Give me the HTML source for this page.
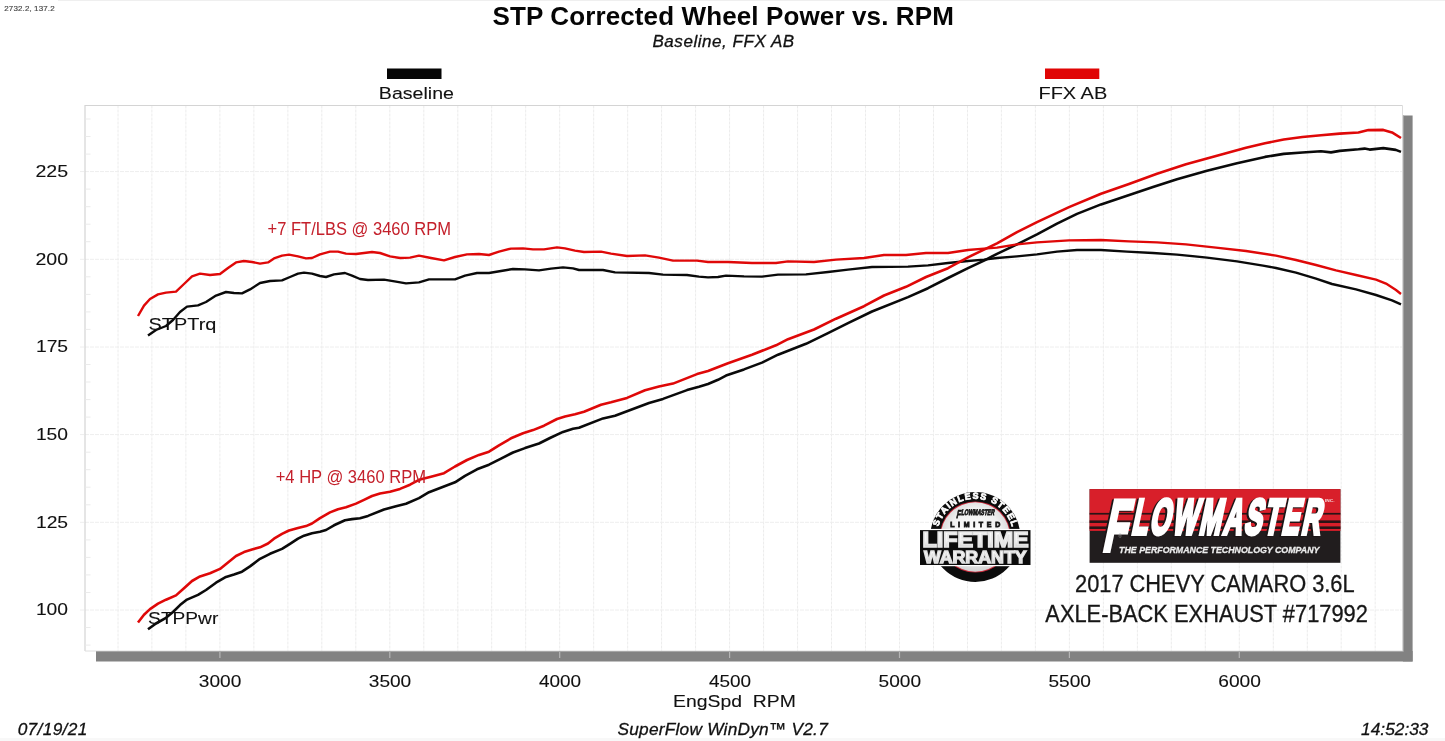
<!DOCTYPE html>
<html lang="en"><head><meta charset="utf-8"><title>STP Corrected Wheel Power vs. RPM</title>
<style>html,body{margin:0;padding:0;background:#fff;overflow:hidden}svg{display:block}text{font-family:"Liberation Sans",Arial,sans-serif;white-space:pre}</style>
</head><body>
<svg width="1445" height="741" viewBox="0 0 1445 741">
<rect x="0" y="0" width="1445" height="741" fill="#fff"/>
<rect x="58" y="0" width="1387" height="1" fill="#efefef"/>
<rect x="0" y="738" width="1445" height="3" fill="#f8f8f8"/>
<g fill="#828282"><rect x="1402.9" y="115.5" width="9.7" height="546"/><rect x="96" y="651" width="1316.6" height="10.5"/></g>
<rect x="85" y="105.5" width="1317.5" height="545.5" fill="#fff"/>
<g stroke="#ececec" stroke-width="1" stroke-dasharray="3 1" fill="none">
<line x1="118.0" y1="105.5" x2="118.0" y2="651"/>
<line x1="151.9" y1="105.5" x2="151.9" y2="651"/>
<line x1="185.9" y1="105.5" x2="185.9" y2="651"/>
<line x1="219.9" y1="105.5" x2="219.9" y2="651"/>
<line x1="253.9" y1="105.5" x2="253.9" y2="651"/>
<line x1="287.9" y1="105.5" x2="287.9" y2="651"/>
<line x1="321.8" y1="105.5" x2="321.8" y2="651"/>
<line x1="355.8" y1="105.5" x2="355.8" y2="651"/>
<line x1="389.8" y1="105.5" x2="389.8" y2="651"/>
<line x1="423.8" y1="105.5" x2="423.8" y2="651"/>
<line x1="457.8" y1="105.5" x2="457.8" y2="651"/>
<line x1="491.7" y1="105.5" x2="491.7" y2="651"/>
<line x1="525.7" y1="105.5" x2="525.7" y2="651"/>
<line x1="559.7" y1="105.5" x2="559.7" y2="651"/>
<line x1="593.7" y1="105.5" x2="593.7" y2="651"/>
<line x1="627.7" y1="105.5" x2="627.7" y2="651"/>
<line x1="661.6" y1="105.5" x2="661.6" y2="651"/>
<line x1="695.6" y1="105.5" x2="695.6" y2="651"/>
<line x1="729.6" y1="105.5" x2="729.6" y2="651"/>
<line x1="763.6" y1="105.5" x2="763.6" y2="651"/>
<line x1="797.6" y1="105.5" x2="797.6" y2="651"/>
<line x1="831.5" y1="105.5" x2="831.5" y2="651"/>
<line x1="865.5" y1="105.5" x2="865.5" y2="651"/>
<line x1="899.5" y1="105.5" x2="899.5" y2="651"/>
<line x1="933.5" y1="105.5" x2="933.5" y2="651"/>
<line x1="967.5" y1="105.5" x2="967.5" y2="651"/>
<line x1="1001.4" y1="105.5" x2="1001.4" y2="651"/>
<line x1="1035.4" y1="105.5" x2="1035.4" y2="651"/>
<line x1="1069.4" y1="105.5" x2="1069.4" y2="651"/>
<line x1="1103.4" y1="105.5" x2="1103.4" y2="651"/>
<line x1="1137.4" y1="105.5" x2="1137.4" y2="651"/>
<line x1="1171.3" y1="105.5" x2="1171.3" y2="651"/>
<line x1="1205.3" y1="105.5" x2="1205.3" y2="651"/>
<line x1="1239.3" y1="105.5" x2="1239.3" y2="651"/>
<line x1="1273.3" y1="105.5" x2="1273.3" y2="651"/>
<line x1="1307.3" y1="105.5" x2="1307.3" y2="651"/>
<line x1="1341.2" y1="105.5" x2="1341.2" y2="651"/>
<line x1="1375.2" y1="105.5" x2="1375.2" y2="651"/>
</g>
<g stroke="#eeeeee" stroke-width="1" stroke-dasharray="4 1" fill="none">
<line x1="80" y1="171.6" x2="1402.5" y2="171.6"/>
<line x1="80" y1="259.3" x2="1402.5" y2="259.3"/>
<line x1="80" y1="347.0" x2="1402.5" y2="347.0"/>
<line x1="80" y1="434.6" x2="1402.5" y2="434.6"/>
<line x1="80" y1="522.3" x2="1402.5" y2="522.3"/>
<line x1="80" y1="610.0" x2="1402.5" y2="610.0"/>
</g>
<path d="M85,651 V105.5 H1402.5" fill="none" stroke="#d4d4d4" stroke-width="1.2"/>
<path d="M85,651 H1402.5 V105.5" fill="none" stroke="#dedede" stroke-width="1"/>
<path d="M96,651.5 H1403.4 V115.5" fill="none" stroke="#a6a6a6" stroke-width="1"/>
<g stroke="#ebebeb" stroke-width="1">
<line x1="85.5" y1="645.1" x2="90.5" y2="645.1"/>
<line x1="85.5" y1="627.5" x2="90.5" y2="627.5"/>
<line x1="85.5" y1="592.5" x2="90.5" y2="592.5"/>
<line x1="85.5" y1="574.9" x2="90.5" y2="574.9"/>
<line x1="85.5" y1="557.4" x2="90.5" y2="557.4"/>
<line x1="85.5" y1="539.9" x2="90.5" y2="539.9"/>
<line x1="85.5" y1="504.8" x2="90.5" y2="504.8"/>
<line x1="85.5" y1="487.2" x2="90.5" y2="487.2"/>
<line x1="85.5" y1="469.7" x2="90.5" y2="469.7"/>
<line x1="85.5" y1="452.2" x2="90.5" y2="452.2"/>
<line x1="85.5" y1="417.1" x2="90.5" y2="417.1"/>
<line x1="85.5" y1="399.6" x2="90.5" y2="399.6"/>
<line x1="85.5" y1="382.0" x2="90.5" y2="382.0"/>
<line x1="85.5" y1="364.5" x2="90.5" y2="364.5"/>
<line x1="85.5" y1="329.4" x2="90.5" y2="329.4"/>
<line x1="85.5" y1="311.9" x2="90.5" y2="311.9"/>
<line x1="85.5" y1="294.4" x2="90.5" y2="294.4"/>
<line x1="85.5" y1="276.8" x2="90.5" y2="276.8"/>
<line x1="85.5" y1="241.7" x2="90.5" y2="241.7"/>
<line x1="85.5" y1="224.2" x2="90.5" y2="224.2"/>
<line x1="85.5" y1="206.7" x2="90.5" y2="206.7"/>
<line x1="85.5" y1="189.1" x2="90.5" y2="189.1"/>
<line x1="85.5" y1="154.1" x2="90.5" y2="154.1"/>
<line x1="85.5" y1="136.5" x2="90.5" y2="136.5"/>
<line x1="85.5" y1="119.0" x2="90.5" y2="119.0"/>
</g>
<g stroke="#b5b5b5" stroke-width="1.2">
<line x1="219.9" y1="652" x2="219.9" y2="658"/>
<line x1="389.8" y1="652" x2="389.8" y2="658"/>
<line x1="559.7" y1="652" x2="559.7" y2="658"/>
<line x1="729.6" y1="652" x2="729.6" y2="658"/>
<line x1="899.5" y1="652" x2="899.5" y2="658"/>
<line x1="1069.4" y1="652" x2="1069.4" y2="658"/>
<line x1="1239.3000000000002" y1="652" x2="1239.3000000000002" y2="658"/>
</g>
<g fill="none" stroke-linejoin="round" stroke-linecap="butt" stroke-width="2.4">
<path d="M148.0,335.6 L156.0,330.0 L166.0,326.0 L173.0,320.0 L180.0,312.0 L187.0,306.6 L198.0,305.4 L206.0,302.0 L216.0,295.6 L226.0,292.0 L234.0,293.0 L242.0,293.4 L250.0,289.4 L260.0,283.0 L270.0,281.0 L282.0,280.4 L290.0,277.0 L298.0,273.6 L304.0,272.6 L312.0,273.6 L320.0,276.0 L326.0,277.0 L334.0,274.4 L345.0,273.0 L352.0,275.6 L360.0,279.0 L368.0,280.0 L384.0,279.6 L396.0,281.6 L406.0,283.4 L419.0,282.4 L429.0,279.4 L455.0,279.4 L465.0,275.6 L477.0,273.0 L489.0,273.0 L501.0,271.0 L513.0,269.0 L525.0,269.4 L539.0,270.4 L551.0,268.6 L563.0,267.4 L573.0,268.4 L579.0,270.0 L603.0,270.0 L615.0,272.4 L649.0,273.0 L663.0,274.6 L687.0,275.0 L699.0,276.6 L708.0,277.4 L718.0,277.0 L726.0,275.6 L744.0,276.4 L762.0,276.6 L778.0,274.6 L806.0,274.4 L828.0,272.0 L848.0,269.6 L872.0,267.0 L908.0,266.6 L928.0,265.4 L948.0,263.0 L968.0,261.0 L984.0,259.6 L997.0,258.0 L1017.0,256.4 L1037.0,254.4 L1057.0,251.6 L1077.0,250.0 L1101.0,250.0 L1127.0,251.6 L1153.0,253.0 L1177.0,254.6 L1207.0,257.6 L1237.0,261.4 L1263.0,265.6 L1276.0,268.0 L1296.0,272.6 L1316.0,278.6 L1332.0,284.0 L1356.0,289.4 L1376.0,295.0 L1392.0,300.4 L1401.0,304.4" stroke="#0a0a0a"/>
<path d="M148.0,629.3 L156.0,623.5 L166.0,617.8 L173.0,612.0 L180.0,605.1 L187.0,599.6 L198.0,594.9 L206.0,590.0 L216.0,582.7 L226.0,576.9 L234.0,574.5 L242.0,571.7 L250.0,566.4 L260.0,558.8 L270.0,553.8 L282.0,548.9 L290.0,543.8 L298.0,538.6 L304.0,535.7 L312.0,533.2 L320.0,531.7 L326.0,530.0 L334.0,525.3 L345.0,520.2 L352.0,519.1 L360.0,518.3 L368.0,515.9 L384.0,509.5 L396.0,506.3 L406.0,503.7 L419.0,498.1 L429.0,492.2 L455.0,482.3 L465.0,475.8 L477.0,469.3 L489.0,464.7 L501.0,458.6 L513.0,452.5 L525.0,448.1 L539.0,443.5 L551.0,437.5 L563.0,431.9 L573.0,428.8 L579.0,427.7 L603.0,418.4 L615.0,415.7 L649.0,403.0 L663.0,398.9 L687.0,390.1 L699.0,386.8 L708.0,384.0 L718.0,379.8 L726.0,375.6 L744.0,369.4 L762.0,362.6 L778.0,354.7 L806.0,343.8 L828.0,333.1 L848.0,323.2 L872.0,311.5 L908.0,297.1 L928.0,288.2 L948.0,278.0 L968.0,268.2 L984.0,260.6 L997.0,253.8 L1017.0,244.3 L1037.0,234.4 L1057.0,223.6 L1077.0,213.9 L1101.0,204.4 L1127.0,195.8 L1153.0,187.0 L1177.0,179.2 L1207.0,170.7 L1237.0,163.2 L1265.0,156.9 L1283.7,153.9 L1302.4,152.5 L1321.0,151.3 L1331.0,152.4 L1339.7,150.9 L1358.4,149.3 L1364.6,148.6 L1369.6,149.6 L1383.3,148.1 L1395.8,149.9 L1401.0,151.9" stroke="#0a0a0a" stroke-width="2.6"/>
<path d="M138.0,316.0 L144.0,305.6 L150.0,299.0 L158.0,294.4 L166.0,292.6 L176.0,291.6 L184.0,284.0 L192.0,276.4 L200.0,273.6 L210.0,275.0 L220.0,274.0 L228.0,268.0 L236.0,262.4 L244.0,261.0 L252.0,262.0 L260.0,263.6 L268.0,262.4 L274.0,258.4 L282.0,255.6 L289.0,254.6 L298.0,256.4 L306.0,258.4 L312.0,258.0 L320.0,254.4 L330.0,251.6 L338.0,251.6 L346.0,253.6 L356.0,254.0 L364.0,253.0 L372.0,252.0 L380.0,253.0 L390.0,256.4 L400.0,258.0 L410.0,257.6 L419.0,255.6 L431.0,258.0 L444.0,260.4 L455.0,257.0 L467.0,254.4 L479.0,254.0 L489.0,255.0 L499.0,251.6 L511.0,248.6 L523.0,248.4 L533.0,249.4 L544.0,249.4 L557.0,247.4 L565.0,248.4 L575.0,250.6 L584.0,252.0 L601.0,251.6 L611.0,253.6 L627.0,256.0 L645.0,255.4 L659.0,257.6 L673.0,260.6 L697.0,260.6 L708.0,262.0 L728.0,262.0 L752.0,263.0 L776.0,263.0 L788.0,261.4 L814.0,262.0 L836.0,259.6 L864.0,258.0 L884.0,255.0 L906.0,255.0 L926.0,253.0 L948.0,253.0 L968.0,250.0 L984.0,248.6 L997.0,247.6 L1017.0,244.4 L1037.0,242.4 L1069.0,240.4 L1101.0,240.0 L1129.0,241.4 L1157.0,242.4 L1186.0,244.4 L1216.0,247.6 L1246.0,251.0 L1276.0,255.6 L1296.0,260.0 L1316.0,265.0 L1336.0,270.4 L1356.0,275.0 L1376.0,279.6 L1386.0,283.6 L1396.0,290.0 L1401.0,294.0" stroke="#df0808"/>
<path d="M138.0,622.5 L144.0,614.8 L150.0,609.1 L158.0,603.7 L166.0,599.7 L176.0,595.4 L184.0,588.2 L192.0,581.0 L200.0,576.4 L210.0,573.3 L220.0,568.9 L228.0,562.4 L236.0,556.0 L244.0,552.1 L252.0,549.5 L260.0,547.3 L268.0,543.5 L274.0,538.7 L282.0,533.9 L289.0,530.5 L298.0,528.1 L306.0,526.1 L312.0,523.5 L320.0,518.1 L330.0,512.4 L338.0,509.2 L346.0,507.3 L356.0,503.6 L364.0,499.8 L372.0,496.0 L380.0,493.5 L390.0,491.8 L400.0,488.9 L410.0,484.7 L419.0,479.8 L431.0,476.7 L444.0,473.2 L455.0,466.5 L467.0,460.0 L479.0,454.9 L489.0,451.7 L499.0,445.3 L511.0,438.3 L523.0,433.3 L533.0,430.1 L544.0,425.7 L557.0,419.0 L565.0,416.6 L575.0,414.3 L584.0,411.8 L601.0,404.7 L611.0,402.3 L627.0,397.9 L645.0,390.3 L659.0,386.6 L673.0,383.6 L697.0,374.1 L708.0,371.0 L728.0,363.2 L752.0,354.7 L776.0,345.3 L788.0,339.2 L814.0,329.5 L836.0,318.7 L864.0,306.2 L884.0,295.5 L906.0,286.8 L926.0,277.0 L948.0,268.2 L968.0,257.3 L984.0,249.6 L997.0,243.4 L1017.0,232.1 L1037.0,222.1 L1069.0,207.1 L1101.0,193.7 L1129.0,183.9 L1157.0,173.8 L1186.0,164.3 L1216.0,155.9 L1246.0,147.8 L1265.0,143.2 L1283.7,139.5 L1302.4,137.0 L1321.0,135.3 L1339.7,133.6 L1358.4,132.5 L1368.4,130.1 L1383.3,129.9 L1392.0,132.4 L1401.0,138.0" stroke="#df0808" stroke-width="2.6"/>
</g>
<text x="492.52" y="24.50" font-size="26" font-weight="bold" fill="#050505" letter-spacing="0.119">STP Corrected Wheel Power vs. RPM</text>
<text x="652.49" y="47.00" font-size="17" font-style="italic" fill="#111" letter-spacing="0.545" stroke="#111" stroke-width="0.3">Baseline, FFX AB</text>
<text x="4.30" y="10.80" font-size="8" fill="#444" letter-spacing="0.114" stroke="#444" stroke-width="0.15">2732.2, 137.2</text>
<rect x="387" y="68.5" width="54.5" height="10.5" fill="#050505"/>
<rect x="1045" y="68.5" width="54.3" height="10.5" fill="#e00505"/>
<text x="378.87" y="99.30" font-size="17" fill="#111" textLength="75.06" lengthAdjust="spacingAndGlyphs" stroke="#111" stroke-width="0.1">Baseline</text>
<text x="1038.43" y="99.30" font-size="17" fill="#111" textLength="68.87" lengthAdjust="spacingAndGlyphs" stroke="#111" stroke-width="0.1">FFX AB</text>
<text x="35.42" y="176.90" font-size="17.2" fill="#111" textLength="32.70" lengthAdjust="spacingAndGlyphs" stroke="#111" stroke-width="0.1">225</text>
<text x="35.42" y="264.58" font-size="17.2" fill="#111" textLength="32.63" lengthAdjust="spacingAndGlyphs" stroke="#111" stroke-width="0.1">200</text>
<text x="35.92" y="352.26" font-size="17.2" fill="#111" textLength="32.18" lengthAdjust="spacingAndGlyphs" stroke="#111" stroke-width="0.1">175</text>
<text x="35.92" y="439.94" font-size="17.2" fill="#111" textLength="32.12" lengthAdjust="spacingAndGlyphs" stroke="#111" stroke-width="0.1">150</text>
<text x="35.92" y="527.62" font-size="17.2" fill="#111" textLength="32.18" lengthAdjust="spacingAndGlyphs" stroke="#111" stroke-width="0.1">125</text>
<text x="35.92" y="615.30" font-size="17.2" fill="#111" textLength="32.12" lengthAdjust="spacingAndGlyphs" stroke="#111" stroke-width="0.1">100</text>
<text x="198.84" y="687.30" font-size="17.2" fill="#111" textLength="42.49" lengthAdjust="spacingAndGlyphs" stroke="#111" stroke-width="0.1">3000</text>
<text x="368.77" y="687.30" font-size="17.2" fill="#111" textLength="42.49" lengthAdjust="spacingAndGlyphs" stroke="#111" stroke-width="0.1">3500</text>
<text x="539.02" y="687.30" font-size="17.2" fill="#111" textLength="42.16" lengthAdjust="spacingAndGlyphs" stroke="#111" stroke-width="0.1">4000</text>
<text x="708.95" y="687.30" font-size="17.2" fill="#111" textLength="42.16" lengthAdjust="spacingAndGlyphs" stroke="#111" stroke-width="0.1">4500</text>
<text x="878.56" y="687.30" font-size="17.2" fill="#111" textLength="42.49" lengthAdjust="spacingAndGlyphs" stroke="#111" stroke-width="0.1">5000</text>
<text x="1048.49" y="687.30" font-size="17.2" fill="#111" textLength="42.49" lengthAdjust="spacingAndGlyphs" stroke="#111" stroke-width="0.1">5500</text>
<text x="1218.22" y="687.30" font-size="17.2" fill="#111" textLength="42.69" lengthAdjust="spacingAndGlyphs" stroke="#111" stroke-width="0.1">6000</text>
<text x="673.08" y="707.30" font-size="17" fill="#111" textLength="122.82" lengthAdjust="spacingAndGlyphs" stroke="#111" stroke-width="0.1">EngSpd  RPM</text>
<text x="617.48" y="734.70" font-size="17.3" font-style="italic" fill="#111" letter-spacing="0.234" stroke="#111" stroke-width="0.3">SuperFlow WinDyn™ V2.7</text>
<text x="17.65" y="734.70" font-size="17.3" font-style="italic" fill="#111" letter-spacing="0.342" stroke="#111" stroke-width="0.3">07/19/21</text>
<text x="1361.04" y="734.70" font-size="17.3" font-style="italic" fill="#111" letter-spacing="0.026" stroke="#111" stroke-width="0.3">14:52:33</text>
<text x="148.57" y="330.40" font-size="17" fill="#111" textLength="67.81" lengthAdjust="spacingAndGlyphs" stroke="#111" stroke-width="0.1">STPTrq</text>
<text x="148.11" y="624.40" font-size="17" fill="#111" textLength="70.22" lengthAdjust="spacingAndGlyphs" stroke="#111" stroke-width="0.1">STPPwr</text>
<text x="267.57" y="234.60" font-size="18.3" fill="#c4202b" textLength="183.50" lengthAdjust="spacingAndGlyphs">+7 FT/LBS @ 3460 RPM</text>
<text x="275.67" y="482.70" font-size="18.3" fill="#c4202b" textLength="150.43" lengthAdjust="spacingAndGlyphs">+4 HP @ 3460 RPM</text>
<text x="1075.01" y="591.90" font-size="23" fill="#161616" textLength="279.63" lengthAdjust="spacingAndGlyphs" stroke="#161616" stroke-width="0.3">2017 CHEVY CAMARO 3.6L</text>
<text x="1045.33" y="622.30" font-size="23" fill="#161616" textLength="322.57" lengthAdjust="spacingAndGlyphs" stroke="#161616" stroke-width="0.3">AXLE-BACK EXHAUST #717992</text>
<g id="fm-logo">
<rect x="1089.6" y="489.1" width="250.8" height="73.7" fill="#211d1e"/>
<rect x="1089.6" y="489.1" width="250.8" height="41.8" fill="#d81f2a"/>
<g fill="#2a1416"><rect x="1089.6" y="512.9" width="250.8" height="1.7"/><rect x="1089.6" y="520.4" width="250.8" height="2.6"/><rect x="1089.6" y="526.4" width="250.8" height="2.6"/></g>
<g transform="translate(0,0)" font-weight="bold" fill="#fff" stroke="#fff" stroke-linejoin="miter" style="filter:drop-shadow(-1.6px 1.2px 0 #1b1516)">
<text transform="translate(1105,534.4) skewX(-12)" x="0" y="0" font-size="49.7" stroke-width="4" letter-spacing="4" textLength="216.5" lengthAdjust="spacingAndGlyphs"><tspan font-size="73.3" dy="16.2">F</tspan><tspan dy="-16.2">LOWMASTER</tspan></text>
</g>
<text x="1325" y="502" font-size="3.6" font-weight="bold" fill="#f3dcdc" textLength="9.5" lengthAdjust="spacingAndGlyphs">INC.</text>
<text x="1118.2" y="538.2" font-size="5" fill="#9a9a9a">®</text>
<text x="1119.08" y="552.80" font-size="9.4" font-weight="bold" font-style="italic" fill="#ececec" textLength="200.29" lengthAdjust="spacingAndGlyphs" stroke="#ececec" stroke-width="0.3">THE PERFORMANCE TECHNOLOGY COMPANY</text>
</g>
<defs>
<radialGradient id="gin" cx="0.5" cy="0.45" r="0.6"><stop offset="0" stop-color="#fff"/><stop offset="0.6" stop-color="#f0f0f0"/><stop offset="1" stop-color="#c9c9c9"/></radialGradient>
<linearGradient id="gsil" x1="0" y1="0" x2="0" y2="1"><stop offset="0" stop-color="#fff"/><stop offset="0.55" stop-color="#f2f2f2"/><stop offset="1" stop-color="#b9b9b9"/></linearGradient>
<path id="arc" d="M942.17,556.10 A38.2,38.2 0 1 1 1008.33,556.10"/>
</defs>
<g id="badge">
<circle cx="975.25" cy="537" r="45" fill="#0c0c0c"/>
<circle cx="975.25" cy="537" r="35.6" fill="#c8283a"/>
<circle cx="975.25" cy="537" r="34.7" fill="url(#gin)"/>
<text font-size="9" font-weight="bold" fill="#fff" stroke="#fff" stroke-width="0.7" letter-spacing="1.25"><textPath href="#arc" startOffset="50.4%" text-anchor="middle">STAINLESS STEEL</textPath></text>
<g font-weight="bold" fill="#161616">
<text transform="translate(956.6,515.3) skewX(-12)" font-size="8.2" stroke="#161616" stroke-width="0.8" textLength="37.5" lengthAdjust="spacingAndGlyphs"><tspan font-size="11.5" dy="2.4">F</tspan><tspan dy="-2.4">LOWMASTER</tspan></text>
<text x="950.13" y="526.80" font-size="7" font-weight="bold" fill="#161616" letter-spacing="3.678" stroke="#161616" stroke-width="0.8">LIMITED</text>
</g>
<rect x="918.8" y="528.9" width="112.8" height="37.3" fill="#fff"/>
<rect x="920" y="530.1" width="110.5" height="34.9" fill="#0c0c0c"/>
<text x="922.55" y="547.00" font-size="21.4" font-weight="bold" fill="url(#gsil)" textLength="106.02" lengthAdjust="spacingAndGlyphs" stroke="#e6e6e6" stroke-width="1.7" stroke-linejoin="miter">LIFETIME</text>
<text x="923.90" y="562.50" font-size="16.0" font-weight="bold" fill="url(#gsil)" textLength="102.71" lengthAdjust="spacingAndGlyphs" stroke="#e2e2e2" stroke-width="1.3" stroke-linejoin="miter">WARRANTY</text>
</g>
</svg>
</body></html>
